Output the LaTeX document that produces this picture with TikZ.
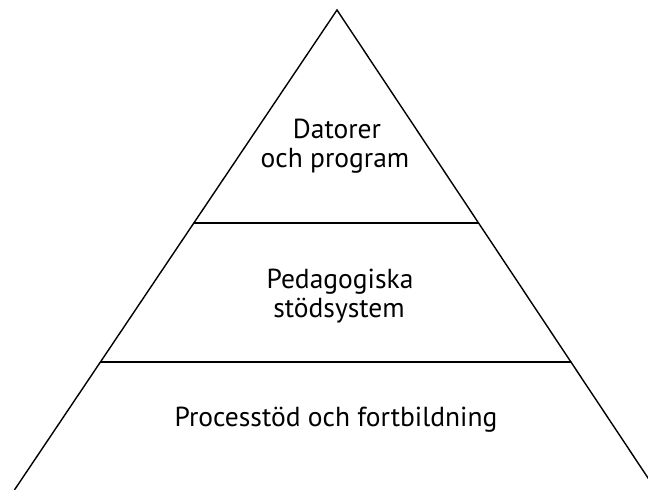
\documentclass[tikz,border=0pt]{standalone}
\usepackage{fontspec}
\setmainfont{PT Sans}
\usetikzlibrary{calc}
\begin{document}
\begin{tikzpicture}[x=1pt,y=1pt,
  side/.style={line width=1.4pt,line cap=round},
  label/.style={anchor=base,inner sep=0pt,font=\fontsize{27.5}{30}\selectfont}]
\useasboundingbox (0,0) rectangle (648,490);
\coordinate (apex) at (337,480);
\coordinate (bl) at (14.4,0);
\coordinate (br) at (656,0);
\draw[side] (bl) -- (apex) -- (br);
\coordinate (d1l) at ($(apex)!0.4437!(bl)$);
\coordinate (d1r) at ($(apex)!0.4437!(br)$);
\coordinate (d2l) at ($(apex)!0.7333!(bl)$);
\coordinate (d2r) at ($(apex)!0.7333!(br)$);
\draw[side] (d1l) -- (d1r);
\draw[side] (d2l) -- (d2r);
\node[label] (t1) at (337,351) {Datorer};
\node[label] (t2) at (335,322) {och program};
\node[label] (t3) at (340,201) {Pedagogiska};
\node[label] (t4) at (339,172) {stödsystem};
\node[label] (t5) at (336,63) {Processtöd och fortbildning};
\end{tikzpicture}
\end{document}
